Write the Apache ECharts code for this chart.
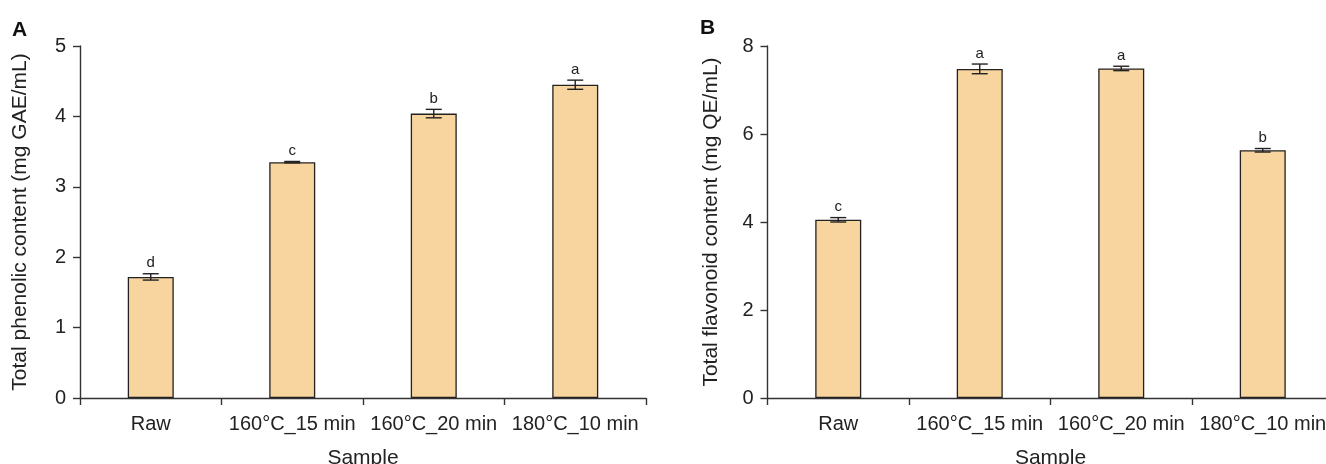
<!DOCTYPE html>
<html>
<head>
<meta charset="utf-8">
<script src="https://cdn.jsdelivr.net/npm/echarts@6/dist/echarts.min.js"></script>
<style>
    html, body { margin: 0; padding: 0; background: #fff; }
    #chart { width: 1326px; height: 464px; }
</style>
</head>
<body>
<div id="chart"></div>
<script>
// 数据
var samples = ['Raw', '160°C_15 min', '160°C_20 min', '180°C_10 min'];

var phenolicMean = [1.72, 3.35, 4.04, 4.45];
var phenolicErr = [0.045, 0.01, 0.06, 0.065];
var phenolicLetters = ['d', 'c', 'b', 'a'];

var flavonoidMean = [4.05, 7.48, 7.49, 5.63];
var flavonoidErr = [0.05, 0.11, 0.05, 0.04];
var flavonoidLetters = ['c', 'a', 'a', 'b'];

var fontName = 'Liberation Sans, Arial, sans-serif';
var axisColor = '#333';

// 误差线 + 显著性字母
function errorSeries(idx, mean, err, letters) {
    var data = [];
    for (let i = 0; i < mean.length; i++) {
        data.push([i, mean[i] - err[i], mean[i] + err[i]]);
    }
    return {
        type: 'custom',
        xAxisIndex: idx,
        yAxisIndex: idx,
        z: 10,
        data: data,
        renderItem: function (params, api) {
            var lo = api.coord([api.value(0), api.value(1)]);
            var hi = api.coord([api.value(0), api.value(2)]);
            var cap = 8;
            var st = { stroke: '#222', lineWidth: 1.4 };
            return {
                type: 'group',
                children: [
                    { type: 'line', shape: { x1: hi[0], y1: hi[1], x2: lo[0], y2: lo[1] }, style: st },
                    { type: 'line', shape: { x1: hi[0] - cap, y1: hi[1], x2: hi[0] + cap, y2: hi[1] }, style: st },
                    { type: 'line', shape: { x1: lo[0] - cap, y1: lo[1], x2: lo[0] + cap, y2: lo[1] }, style: st },
                    {
                        type: 'text',
                        x: hi[0],
                        y: hi[1] - 3,
                        style: {
                            text: letters[params.dataIndex],
                            fill: '#222',
                            font: '15px ' + fontName,
                            textAlign: 'center',
                            textVerticalAlign: 'bottom'
                        }
                    }
                ]
            };
        }
    };
}

function xAxisOf(idx) {
    return {
        type: 'category',
        gridIndex: idx,
        data: samples,
        name: 'Sample',
        nameLocation: 'middle',
        nameGap: 50,
        nameTextStyle: { fontSize: 21, color: '#222', fontFamily: fontName },
        axisLine: { lineStyle: { color: axisColor, width: 1.4 } },
        axisTick: { show: true, length: 7, lineStyle: { color: axisColor, width: 1.4 } },
        axisLabel: { interval: 0, margin: 16, fontSize: 20, color: '#222', fontFamily: fontName }
    };
}

function yAxisOf(idx, max, interval, title, gap) {
    return {
        type: 'value',
        gridIndex: idx,
        min: 0,
        max: max,
        interval: interval,
        name: title,
        nameLocation: 'middle',
        nameGap: gap,
        nameTextStyle: { fontSize: 21, color: '#222', fontFamily: fontName },
        splitLine: { show: false },
        axisLine: { show: true, lineStyle: { color: axisColor, width: 1.4 } },
        axisTick: { show: true, length: 7, lineStyle: { color: axisColor, width: 1.4 } },
        axisLabel: { margin: 14, fontSize: 20, color: '#222', fontFamily: fontName }
    };
}

function barSeries(idx, mean) {
    return {
        type: 'bar',
        xAxisIndex: idx,
        yAxisIndex: idx,
        barWidth: 46,
        data: mean,
        itemStyle: { color: '#F8D59E', borderColor: '#222', borderWidth: 1.3 }
    };
}

var chart = echarts.init(document.getElementById('chart'));
var option = {
    animation: false,
    backgroundColor: '#fff',
    title: [
        { text: 'A', left: 7, top: 15, textStyle: { fontSize: 21, fontWeight: 'bold', color: '#111', fontFamily: fontName } },
        { text: 'B', left: 695, top: 13, textStyle: { fontSize: 21, fontWeight: 'bold', color: '#111', fontFamily: fontName } }
    ],
    grid: [
        { left: 80, top: 46, width: 566, height: 352, outerBoundsMode: 'none' },
        { left: 767.5, top: 46, width: 566, height: 352, outerBoundsMode: 'none' }
    ],
    xAxis: [xAxisOf(0), xAxisOf(1)],
    yAxis: [
        yAxisOf(0, 5, 1, 'Total phenolic content (mg GAE/mL)', 49),
        yAxisOf(1, 8, 2, 'Total flavonoid content (mg QE/mL)', 46)
    ],
    series: [
        barSeries(0, phenolicMean),
        errorSeries(0, phenolicMean, phenolicErr, phenolicLetters),
        barSeries(1, flavonoidMean),
        errorSeries(1, flavonoidMean, flavonoidErr, flavonoidLetters)
    ]
};
chart.setOption(option);
</script>
</body>
</html>
